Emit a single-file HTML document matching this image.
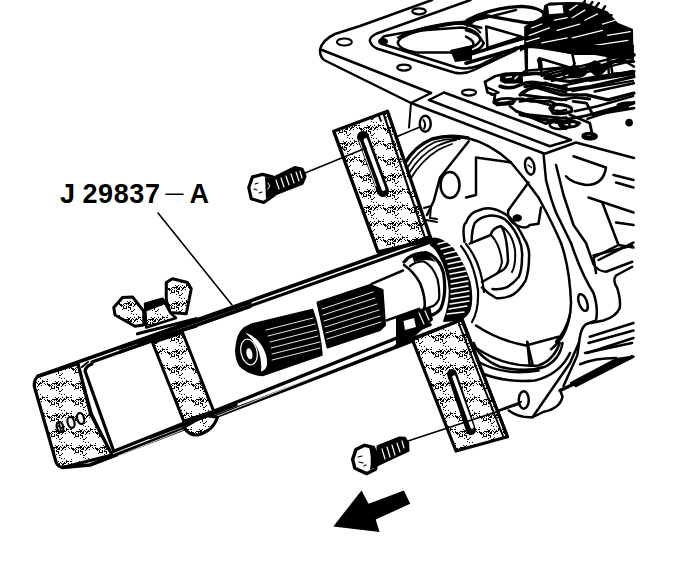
<!DOCTYPE html>
<html><head><meta charset="utf-8"><style>
html,body{margin:0;padding:0;background:#fff;width:688px;height:572px;overflow:hidden}
svg{display:block}
</style></head><body>
<svg width="688" height="572" viewBox="0 0 688 572">
<defs>
<pattern id="st" width="24" height="16" patternUnits="userSpaceOnUse"><rect width="24" height="16" fill="#fff"/><path fill="#000" d="M0,0h1v1h-1zM1,0h1v1h-1zM3,0h1v1h-1zM6,0h1v1h-1zM8,0h1v1h-1zM10,0h1v1h-1zM11,0h1v1h-1zM14,0h1v1h-1zM15,0h1v1h-1zM21,0h1v1h-1zM23,0h1v1h-1zM0,1h1v1h-1zM1,1h1v1h-1zM2,1h1v1h-1zM4,1h1v1h-1zM9,1h1v1h-1zM10,1h1v1h-1zM11,1h1v1h-1zM14,1h1v1h-1zM17,1h1v1h-1zM1,2h1v1h-1zM3,2h1v1h-1zM6,2h1v1h-1zM8,2h1v1h-1zM13,2h1v1h-1zM3,3h1v1h-1zM6,3h1v1h-1zM8,3h1v1h-1zM9,3h1v1h-1zM10,3h1v1h-1zM3,4h1v1h-1zM4,4h1v1h-1zM5,4h1v1h-1zM6,4h1v1h-1zM10,4h1v1h-1zM2,5h1v1h-1zM10,5h1v1h-1zM14,5h1v1h-1zM8,6h1v1h-1zM13,6h1v1h-1zM11,7h1v1h-1zM12,7h1v1h-1zM11,9h1v1h-1zM13,10h1v1h-1zM16,10h1v1h-1zM23,11h1v1h-1zM18,12h1v1h-1zM7,13h1v1h-1zM10,13h1v1h-1zM14,13h1v1h-1zM18,13h1v1h-1zM19,13h1v1h-1zM20,13h1v1h-1zM22,13h1v1h-1zM23,13h1v1h-1zM8,14h1v1h-1zM9,14h1v1h-1zM12,14h1v1h-1zM16,14h1v1h-1zM18,14h1v1h-1zM4,15h1v1h-1zM5,15h1v1h-1zM6,15h1v1h-1zM7,15h1v1h-1zM8,15h1v1h-1zM9,15h1v1h-1zM11,15h1v1h-1zM13,15h1v1h-1zM15,15h1v1h-1zM16,15h1v1h-1zM17,15h1v1h-1zM20,15h1v1h-1zM23,15h1v1h-1z"/></pattern>
</defs>
<g fill="none" stroke="#000" stroke-width="2.5" stroke-linejoin="round" stroke-linecap="round">
<!-- top plate -->
<path d="M432,0 L360,26 L335,34 Q322,40 320,50 Q320,57 324,60 L411,103 L431,93" stroke-width="2.5"/>
<path d="M322,50 L431,93" stroke-width="2.5"/>
<ellipse cx="344.4" cy="42" rx="7.5" ry="3.5" stroke-width="2"/>
<ellipse cx="383" cy="41.5" rx="5" ry="3.5" fill="#000" stroke="none"/>
<path d="M400,38 Q420,27 455,23 L472,22" stroke-width="3.5"/>
<path d="M450,50 L472,45 L472,60 L455,62 Z" fill="#000" stroke="none"/>
<g transform="translate(344,0) scale(0.25)" stroke-width="10">
<ellipse cx="300" cy="45" rx="27" ry="12" stroke-width="9"/>
<ellipse cx="240" cy="270" rx="27" ry="12" stroke-width="9"/>
<ellipse cx="500" cy="370" rx="28" ry="12" stroke-width="9"/>
<path d="M506,0 L129,135 Q100,150 104,165 Q110,185 134,195 L440,290 Q480,300 520,280 L688,200"/>
<path d="M688,40 L550,75 L160,145 Q140,160 150,175 L450,270 Q500,280 540,262 L688,190"/>
<path d="M215,170 Q230,130 330,120 L470,110 Q540,120 545,160 Q530,195 440,210 L290,210 Q220,200 215,170 Z"/>
<path d="M215,150 Q300,100 470,95 Q530,105 545,130" stroke-width="8"/>
<ellipse cx="325" cy="495" rx="22" ry="32"/>
<path d="M318,480 Q330,500 320,515" stroke-width="8"/>
</g>
<!-- T2 valve body -->
<g transform="translate(466,0) scale(0.2529)" stroke-width="10">
<path d="M5,80 Q100,30 220,25 Q300,30 312,60 Q300,92 240,90 Q150,75 80,62 Q40,70 5,100" stroke-width="13"/>
<path d="M0,120 Q50,130 70,170 Q60,200 0,210 M0,145 Q30,160 30,175 Q25,190 0,190"/>
<path d="M80,105 L220,145 L85,190 Z"/>
<path d="M0,95 L60,110"/>
<path d="M0,220 L230,150 M0,250 L240,180" stroke-width="14"/>
<polygon fill="#000" stroke="none" points="230,105 300,65 310,20 330,10 420,8 470,10 560,45 600,90 660,115 662,190 560,200 420,215 300,195 230,185"/>
<path d="M450,30 L470,5 M480,35 L500,8 M505,40 L525,12 M530,55 L550,25 M545,75 L575,60"/>
<path d="M320,20 L385,15 L390,55 L325,60 Z" fill="#fff" stroke-width="8"/>
<path d="M250,140 L330,110 M360,120 L450,95 M420,150 L540,120 M300,170 L400,150 M560,140 L650,125 M470,185 L640,160 M240,165 L290,150" stroke="#fff" stroke-width="5"/>
<path d="M235,195 L238,280 L290,275 L290,230 L420,270 L430,250 M295,235 L300,275 L400,265 M560,220 L565,295 L600,290 M420,210 L430,260"/>
<path d="M300,300 L660,210 M340,320 L660,240 M380,340 L660,280 M420,360 L660,320" stroke-width="9"/>
<path d="M380,290 Q420,260 460,280 Q440,310 390,305 Z"/>
<ellipse cx="410" cy="490" rx="30" ry="12"/>
<ellipse cx="490" cy="540" rx="25" ry="10"/>
<ellipse cx="620" cy="420" rx="20" ry="10"/>
<circle cx="645" cy="485" r="10" fill="#000"/>
<path d="M480,470 L660,410 M430,440 L520,420 L660,380"/>
<path d="M410,40 L440,20 M420,70 L470,40 M470,80 L520,55 M350,80 L400,70 M540,95 L590,80 M260,110 L300,95" stroke="#fff" stroke-width="5"/>
</g>
<g transform="translate(520,45) scale(0.1661)" stroke-width="17">
<polygon fill="#000" stroke="none" points="0,0 686,0 686,90 560,80 450,60 330,60 140,20 40,20 0,40"/>
<path d="M40,20 L40,170 M110,90 L130,170 L250,140 L350,130"/>
<path d="M0,180 L100,170 L200,190 L350,150 L480,130 L686,60" stroke-width="22"/>
<path d="M150,200 L300,220 L420,200 L686,160" stroke-width="20"/>
<path d="M30,250 L150,230 L280,270 L420,250 L686,190" stroke-width="20"/>
<path d="M0,300 Q40,260 100,255 L250,300 L400,300 L530,330 L686,290" stroke-width="20"/>
<path d="M20,300 L250,330 L330,315 L420,325"/>
<path d="M300,160 Q340,140 400,160 Q380,200 300,190 Z" fill="#000"/>
<path d="M400,130 L450,100 L520,140 L470,190 Z" fill="#000"/>
<path d="M540,80 L560,190 M620,90 L686,130 M420,215 L686,175 M450,280 L686,230" stroke-width="15"/>
<path d="M180,380 Q200,350 260,360 Q320,370 310,400 Q260,420 200,410 Z" stroke-width="20"/>
<path d="M0,340 L60,330 L180,360"/>
<path d="M0,415 L300,445 L400,425 L686,345"/>
<path d="M240,480 Q300,450 360,470 Q340,500 260,495 Z"/>
<path d="M320,340 L400,350 L440,420 L686,380"/>
<path d="M380,540 Q420,520 450,545 Q420,560 380,555 Z"/>
<path d="M300,420 L420,470 L440,560"/>
<path d="M590,360 Q640,340 686,350 M560,100 L686,100"/>
<path d="M0,420 L240,470"/>
</g>
<g transform="translate(480,70) scale(0.125)" stroke-width="22">
<path d="M160,35 L340,25 L345,105 L200,110 L160,90 Z" fill="#000" stroke="none"/>
<path d="M210,60 L250,55 M280,70 L300,50" stroke="#fff" stroke-width="12"/>
<path d="M40,95 L120,50 L200,30 L340,25 L360,10"/>
<path d="M40,95 L60,180 L120,200 L110,260 L140,280 L260,270 L290,230 L340,230 L400,250 L560,250 L600,270 L580,320 L640,330 L688,320"/>
<path d="M160,130 Q240,160 320,120 Q380,90 440,100 L688,140" stroke-width="28"/>
<path d="M330,200 Q400,130 480,130 L688,180"/>
<path d="M380,230 L560,220 L688,240"/>
<path d="M120,245 Q200,215 280,235 Q250,265 140,265 Z"/>
<path d="M240,290 L290,330 L450,380 L560,400 L688,380"/>
<path d="M640,420 Q620,450 688,470"/>
<path d="M60,140 L150,180 L90,200" stroke-width="16"/>
</g>
<line x1="411" y1="103" x2="409" y2="127.5" stroke-width="2"/>
<!-- case rails src -->
<path d="M444,92.5 L571,140 L549.75,146.25 L429,100 L444,92.5" stroke-width="2.5"/>
<path d="M411,103 L544.75,153.75 L576,142.5 L634,158" stroke-width="2.5"/>
<path d="M516,111 L546,123.75 Q555,120 561,121" stroke-width="2.5"/>
<ellipse cx="559.75" cy="125" rx="10" ry="4" stroke-width="2.5"/>
<ellipse cx="589.75" cy="136.25" rx="7" ry="3" stroke-width="2.5"/>
<!-- T3 (466,130) -->
<g transform="translate(466,130) scale(0.25)" stroke-width="10">
<path d="M0,30 Q100,55 180,130 Q240,200 290,270 Q345,370 380,452"/>
<path d="M310,95 L320,200 Q340,280 360,330 L420,452"/>
<path d="M360,140 L390,260 L430,380 L480,452"/>
<path d="M40,110 L180,130 M40,110 L40,260 L0,270"/>
<ellipse cx="255" cy="145" rx="18" ry="34" transform="rotate(-12 255 145)"/>
<path d="M248,140 L262,150" stroke-width="6"/>
<path d="M250,210 L170,320"/>
<path d="M170,320 Q160,355 200,380 Q240,400 255,380 L290,375 M300,310 L290,375"/>
<ellipse cx="205" cy="352" rx="14" ry="10" fill="#000"/>
<path d="M430,105 L560,150 Q550,220 480,220 Q420,210 400,185"/>
<path d="M590,180 L670,200 M600,210 L670,230"/>
<path d="M490,270 L670,330"/>
<path d="M545,290 L610,460 L510,510 L520,572"/>
<path d="M600,370 L670,380 M610,460 L670,470 M530,520 L670,450"/>
</g>
<!-- T4 (476,243) -->
<g transform="translate(476,243) scale(0.25)" stroke-width="10">
<path d="M340,0 Q375,100 380,240 Q378,320 345,375 Q320,410 300,425"/>
<path d="M375,290 Q360,350 320,395"/>
<path d="M0,330 Q90,390 200,410 L330,375"/>
<path d="M205,395 L215,490"/>
<path d="M0,420 Q120,500 250,490 Q310,470 335,400"/>
<path d="M0,470 Q110,535 250,510"/>
<path d="M380,0 Q420,120 470,200 Q490,260 480,310 L440,325 Q420,340 415,380 L405,450 L350,572"/>
<path d="M440,0 L470,85 Q485,112 520,115 L625,75 M470,50 L625,10"/>
<path d="M625,95 L560,130 Q545,150 565,180 Q580,230 575,260 Q560,295 510,310 L460,320"/>
<ellipse cx="428" cy="238" rx="16" ry="35" transform="rotate(-20 428 238)"/>
<path d="M455,375 L630,320 M450,400 L630,350 M445,440 L630,380"/>
<path d="M380,560 L560,465 L630,455 L400,572 Z" fill="#000"/>
</g>
<!-- T5 (460,343) -->
<g transform="translate(460,343) scale(0.25)" stroke-width="10">
<path d="M55,0 Q75,60 160,95 Q260,120 340,95 Q400,65 410,0"/>
<path d="M85,120 Q180,160 300,150 Q400,125 440,40"/>
<path d="M270,0 L290,85"/>
<ellipse cx="255" cy="228" rx="20" ry="35"/>
<path d="M150,270 L245,235" stroke-width="7"/>
<path d="M195,270 Q235,300 290,297 L335,275 Q400,262 410,215 L402,192"/>
<path d="M290,297 L440,80 L475,0"/>
<path d="M400,190 L688,55" stroke-width="14"/>
<path d="M480,85 Q540,60 625,60 M500,40 L688,0"/>
</g>
<!-- bell housing -->
<path d="M405,163 Q415,146 432,139 Q450,134 468,138" stroke-width="3.4"/>
<path d="M407,168 Q418,150 435,142 Q448,138 460,139" stroke-width="1.8"/>
<path d="M409,173 Q420,155 437,146 Q448,141 456,140" stroke-width="1.8"/>
<path d="M411,178 Q422,160 438,150 Q446,146 452,144" stroke-width="1.8"/>
<path d="M468.75,141.25 L440,177.5 L433.75,201 L427,215" stroke-width="2.5"/>
<ellipse cx="450" cy="185" rx="9.5" ry="13" stroke-width="2.5"/>
<path d="M424,208 L431,206 L430,218 L437,219 M426,220 L437,222" stroke-width="2"/>
<!-- shaft -->
<!-- retainer -->
<path d="M464.5,242 Q462,225 466,222.7 Q470,212 478.5,210.5 Q486,207 492.5,208.7 Q502,211 510,217.5 Q518,226 524,238.5 Q530,248 529,257.7 Q529,270 525.7,280.4 Q520,290 513.4,294.4 Q505,299 496,298 Q488,294 482,287.4" stroke-width="2.5"/>
<path d="M471.5,242 Q472,228 475,222.7 Q480,217 489,215.7 Q497,215 504.7,219.2 Q513,226 518.7,238.5 Q523,248 522,257.7 Q522,270 518.7,277 Q513,284 506.4,287.4 Q500,290 492.5,289" stroke-width="2.5"/>
<path d="M469.7,243.7 L490.7,235 Q492,228 501,226 Q507,234 508,261 Q507,267 503,270 L482,282" stroke-width="2.5"/>
<path d="M492,236 Q500,245 502,262 Q500,272 495,275" stroke-width="2"/>
<path d="M501,226 Q512,232 515,250 Q516,265 512,272" stroke-width="2"/>
<!-- white cylinder between splines and gear -->
<polygon points="371.5,284 406,269 414,275 424,300 425,307 386.6,320.4" fill="#fff" stroke="none"/>
<path d="M371.6,283.8 L403,270.5 M386.6,320.4 L424.8,307" stroke-width="2.5"/>
<!-- collar ring -->
<path d="M404,262 Q411,253 426,252.5 Q439,257 443.5,273 Q447,295 440.5,309 Q434,317 423,316" fill="#fff" stroke-width="3.2"/>
<path d="M412,256 Q420,253 428,254 L436,262 Q425,258 414,262 Z" fill="#000" stroke="none"/>
<path d="M410,266 Q417,261 424,261.5 Q433,266 437.5,279 Q440,291 439,299 Q436,306 430,307" stroke-width="2.2"/>
<path d="M404,265 Q414,272 420,283 Q425,295 424.8,306 L422,315" stroke-width="2.6"/>
<!-- gear -->
<path d="M431,239 Q440,236 453,249 Q463,262 469.6,282 Q473,300 469.6,310 Q466,318 458,320 L444,321 Q450,306 449.7,290 Q448,270 440,256 Q436,248 431,245 Z" fill="#000" stroke-width="2"/>
<g stroke="#fff" stroke-width="1.4">
<path d="M438,244 L449,241 M441,249 L453,246 M444,254 L457,251 M446,259 L460,256 M448,264 L462,261 M449,269 L464,266 M450,274 L466,271 M451,279 L467,276 M451,284 L468,281 M451,289 L468,286 M451,294 L469,291 M451,299 L469,296 M450,304 L469,301 M449,309 L467,306 M447,314 L464,312"/>
</g>
<path d="M461,246 Q474,262 478,290 Q479,310 472,322" stroke-width="2.2"/>
<path d="M466,244 Q481,262 484,292" stroke-width="2.2"/>
<!-- splines -->
<path d="M236,348 Q237,334 244,328 L252,324 L312.5,309.5 Q320,330 322,355 L262.5,375.5 Q248,374 240,366 Q235,358 236,348 Z" fill="#000" stroke="#000" stroke-width="1.5"/>
<polygon points="317.5,302.5 370,285 382.5,290 385,325 380,330 327.5,347.5" fill="#000" stroke-width="2"/>
<g stroke="#fff" stroke-width="0.9">
<path d="M266,330 L313,318 M268,336 L315,324 M270,342 L317,330 M271,348 L318,336 M272,354 L320,342 M272,360 L320,348"/>
<path d="M322,309 L373,292 M323,315 L375,298 M324,321 L377,304 M325,327 L379,310 M326,333 L380,316 M327,339 L381,322"/>
</g>
<path d="M245,332.5 Q256,336 262,346 Q268,356 267,365 Q266,370 261,371.5 Q262,362 259,352 Q255,341 245,332.5 Z" fill="#fff" stroke="none"/>
<ellipse cx="249" cy="352" rx="8" ry="13" fill="none" stroke="#fff" stroke-width="1.2" transform="rotate(-12 249 352)"/>
<ellipse cx="249.4" cy="353.75" rx="3" ry="5.6" fill="#fff" stroke="none" transform="rotate(-12 249.4 353.75)"/>
<!-- upper bracket -->
<polygon points="333.75,131.25 387.5,111.25 431.25,240 378,252" fill="url(#st)" stroke-width="3.4"/>
<path d="M383.5,113.5 L426,241" stroke-width="2.2"/>
<path d="M379,116 L381,121" stroke-width="2"/>
<path d="M363,137 L383,191" stroke-width="12"/>
<path d="M365.5,140 L383.5,189" stroke="#fff" stroke-width="3.8"/>
<path d="M359.5,141 L376,186" stroke="#fff" stroke-width="1"/>
<path d="M339,146 L345,150" stroke-width="1.5"/>
<!-- tool frame -->
<!-- frame body white fill -->
<path d="M38,376 L430,237 L430,334 L90,465 L62,467 Z" fill="none" stroke="none"/>
<!-- end piece -->
<path d="M38,376.25 L78,363.75 L90.5,413.75 L112,455 L62.5,467.5 Q58,467 56,462 L34.25,386.25 Q34,379 38,376.25 Z" fill="url(#st)" stroke-width="3.2"/>
<path d="M78,363.75 L92,414 L112,455" stroke-width="2"/>
<!-- frame top: outer + inner -->
<path d="M38,376.25 L430,237" stroke-width="3.6"/>
<path d="M92,364 Q86,366 85,371 L113.75,451.25" stroke-width="3.2"/>
<path d="M92,362 L430,242.3" stroke-width="3.2"/>
<path d="M82,367 L88,362" stroke-width="2"/>
<!-- frame bottom -->
<path d="M113.75,451.25 L430,324.75" stroke-width="3.4"/>
<path d="M62.5,467.5 L90,465 L430,334" stroke-width="3.6"/>
<path d="M118,456 L430,330" stroke="#fff" stroke-width="0.8"/>
<!-- 000 marks -->
<g fill="#fff" stroke-width="2.2">
<ellipse cx="60" cy="427" rx="3.2" ry="5.2" transform="rotate(-15 60 427)"/>
<ellipse cx="71" cy="422.4" rx="3.4" ry="5.6" transform="rotate(-15 71 422.4)"/>
<ellipse cx="80.6" cy="418.5" rx="3.4" ry="5.6" transform="rotate(-15 80.6 418.5)"/>
</g>
<path d="M58,426 L62,428 M59,423 L61,431" stroke-width="1.6"/>
<!-- clamp band -->
<path d="M183.75,427.5 Q190,436 197.5,435 Q212,432 217.5,417.5 L205,415 Z" fill="url(#st)" stroke-width="3"/>
<polygon points="152.5,342.5 182.5,332.5 213.75,411.25 183.75,421.25" fill="url(#st)" stroke-width="3"/>
<!-- redraw frame bottom line over clamp -->
<path d="M150,437.5 L236,405" stroke-width="3.4"/>
<path d="M120,348 L250,302.5" stroke-width="3.6"/>
<path d="M120,352 L250,306.8" stroke-width="3.2"/>
<!-- wing nut -->
<polygon points="113.75,307.5 122.5,297.5 132.5,296.9 143.75,311.25 143.75,325 135,326.25 115,315" fill="url(#st)" stroke-width="3"/>
<polygon points="166.25,282.5 172.5,278.75 187.5,282.5 191.25,288.75 186.25,313.75 170,312.5 166.25,300" fill="url(#st)" stroke-width="3"/>
<path d="M145,303.75 L162.5,298.75 L170,312.5 L176,318 L146.25,327.5 Z" fill="url(#st)" stroke-width="2.5"/>
<path d="M145,305 L163,299 L165,303 L147,310 Z" fill="#000" stroke-width="2"/>
<path d="M137.5,333.75 L196,318.75 M138.75,342.5 L196,326.25" stroke-width="3.2"/>
<!-- lower bracket -->
<polygon points="412,338.75 458.5,321 461,318 507.5,436.75 456,451" fill="url(#st)" stroke-width="3.2"/>
<path d="M459,324 L503,436" stroke-width="2"/>
<path d="M461,316 L507.5,436.75" stroke-width="3"/>
<path d="M452,374 L471,430" stroke-width="10"/>
<path d="M454,377 L472,427" stroke="#fff" stroke-width="3.4"/>
<!-- frame bottom block near bracket -->
<polygon points="396,316.5 421,309 430,306 433,320 412,338.75 396,346" fill="#000" stroke="none"/>
<path d="M403.5,321 L414,318 L416,327 L405,330 Z" fill="#fff" stroke="none"/>
<path d="M419,313 L424,324 M425,311 L429,320" stroke="#fff" stroke-width="1.2"/>
<path d="M396,346 L458.5,321" stroke-width="3"/>
<!-- upper bolt -->
<path d="M271.25,178.75 L295,166.9 L302.5,168.75 L305.6,176.25 L302.5,183.75 L273.75,195 Z" fill="#000" stroke="#000" stroke-width="2"/>
<g stroke="#fff" stroke-width="1.2">
<path d="M276,180 L279,189 M281,178 L284,187 M286,176 L289,185 M291,174 L294,183 M296,172 L299,181 M300,171 L302,178"/>
</g>
<path d="M248.75,187.5 L252.5,176.9 L262.5,174.4 L272.5,176.9 L274.4,195 L263.75,202.5 L251.25,198.75 Z" fill="#fff" stroke-width="3.2"/>
<path d="M265,177 L273,178 L274,194 L266,199 Z" fill="#000" stroke="none"/>
<path d="M268,183 Q271,186 268,189" stroke="#fff" stroke-width="1"/>
<path d="M255,184 L258,183 M254,189 L257,190 M259,193 L262,192" stroke-width="1.2"/>
<line x1="305" y1="173" x2="366" y2="148" stroke-width="1.6"/>
<line x1="396" y1="137" x2="420" y2="127" stroke-width="1.6"/>
<!-- lower bolt -->
<path d="M377.7,446.4 L399.5,437.6 L405,438 L408,443 L408.3,450.7 L377.7,464.9 Z" fill="#000" stroke="#000" stroke-width="2.4"/>
<g stroke="#fff" stroke-width="1.2">
<path d="M382,449 L385,459 M387,447 L390,457 M392,445 L395,455 M397,443 L400,452 M402,441 L404,448"/>
</g>
<path d="M352.6,459.4 L355.9,449.6 L364.6,445.3 L373.4,447.4 L377.7,457.3 L375.5,469.3 L366.8,473.6 L354.8,468.2 Z" fill="#fff" stroke-width="3.4"/>
<path d="M369,447 L376,450 L377,466 L370,470 Q372,458 369,447 Z" fill="#000" stroke="none"/>
<path d="M358,457 L362,456 M359,462 L363,463 M364,466 L366,465" stroke-width="1.2"/>
<line x1="408" y1="441" x2="520" y2="404" stroke-width="1.6"/>
<!-- text -->
<g stroke="none" fill="#000" font-family="Liberation Sans, sans-serif" font-weight="bold" font-size="27">
<text x="60" y="203">J</text>
<text x="82.5" y="203" letter-spacing="0.6">29837</text>
<text x="189.5" y="203">A</text>
</g>
<line x1="166" y1="194.3" x2="183" y2="194.3" stroke-width="1.6"/>
<line x1="158" y1="213" x2="232" y2="305" stroke-width="1.6"/>

<!-- arrow -->
<polygon stroke="none" fill="#000" points="333.3,526.5 361.5,490.4 368.6,503.8 403.9,490.4 410.2,503.8 375.7,519.5 379.6,532"/>

</g>
</svg>
</body></html>
